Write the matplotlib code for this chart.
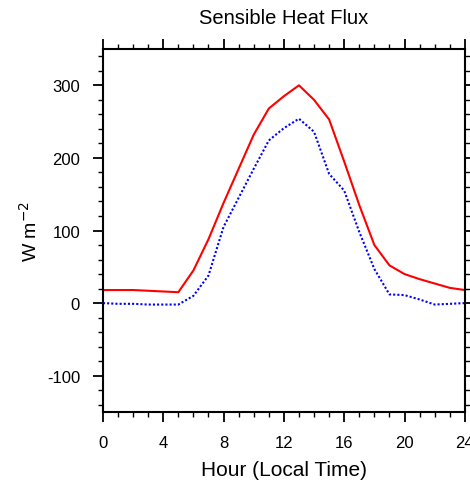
import matplotlib
matplotlib.use("Agg")
import matplotlib.pyplot as plt
from matplotlib.ticker import MultipleLocator

plt.rcParams['font.family'] = ['Liberation Sans', 'DejaVu Sans']
plt.rcParams['axes.unicode_minus'] = False

# 逐时数据 (0-24 时)
hours = list(range(25))
flux_red = [18, 18, 18, 17, 16, 15, 45, 88, 138, 185, 232, 268, 285, 300,
            280, 253, 195, 135, 80, 52, 40, 33, 27, 21, 18]
flux_blue = [0, -1, -1, -2, -2, -2, 10, 38, 105, 145, 185, 224, 241, 254,
             236, 178, 155, 98, 47, 12, 11, 5, -2, -1, 0]

fig = plt.figure(figsize=(4.7, 4.81), dpi=100)
ax = fig.add_axes([0.219, 0.1414, 0.770, 0.7546])

ax.plot(hours, flux_red, color='red', lw=1.5)
ax.plot(hours, flux_blue, color='blue', lw=1.5, linestyle=(0, (1.0, 1.0)))

ax.set_xlim(0, 24)
ax.set_ylim(-150, 350)
ax.xaxis.set_major_locator(MultipleLocator(4))
ax.xaxis.set_minor_locator(MultipleLocator(1))
ax.yaxis.set_major_locator(MultipleLocator(100))
ax.yaxis.set_minor_locator(MultipleLocator(20))

ax.tick_params(which='both', direction='out', top=True, right=True,
               width=1.3, labelsize=12)
ax.tick_params(which='major', length=7.5, pad=9)
ax.tick_params(which='minor', length=3.5, width=1.0)
for s in ax.spines.values():
    s.set_linewidth(1.5)

ax.set_title('Sensible Heat Flux', fontsize=14.5, pad=19)
ax.set_xlabel('Hour (Local Time)', fontsize=15, labelpad=7)
ax.set_ylabel('W m$^{-2}$', fontsize=14, labelpad=4)

fig.savefig('out.png', dpi=100)
